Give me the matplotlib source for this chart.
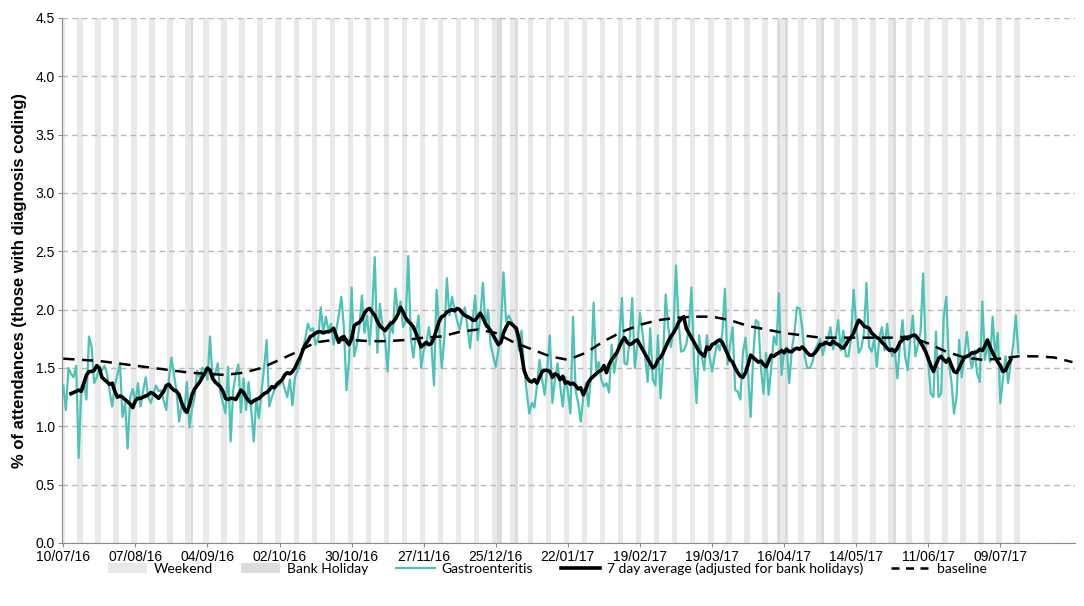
import numpy as np
import pandas as pd
import matplotlib
matplotlib.use('Agg')
import matplotlib.pyplot as plt
from matplotlib.lines import Line2D
from matplotlib.ticker import FixedLocator

start = pd.Timestamp('2016-07-10')

# daily % of attendances, Gastroenteritis, from 10/07/16
gastro = [
    1.35, 1.14, 1.50, 1.45, 1.42, 1.52, 0.73, 1.34, 1.38, 1.23,
    1.77, 1.68, 1.37, 1.42, 1.51, 1.48, 1.52, 1.45, 1.30, 1.17,
    1.35, 1.44, 1.54, 1.08, 1.20, 0.81, 1.25, 1.32, 1.20, 1.37,
    1.17, 1.30, 1.42, 1.25, 1.20, 1.28, 1.35, 1.30, 1.31, 1.22,
    1.14, 1.40, 1.59, 1.44, 1.30, 1.04, 1.20, 1.12, 1.38, 0.99,
    1.15, 1.25, 1.48, 1.42, 1.50, 1.49, 1.40, 1.77, 1.40, 1.45,
    1.54, 1.29, 1.20, 1.11, 1.51, 0.87, 1.31, 1.45, 1.53, 1.12,
    1.41, 1.14, 1.38, 1.14, 0.87, 1.24, 1.07, 1.30, 1.50, 1.74,
    1.17, 1.25, 1.31, 1.38, 1.35, 1.40, 1.32, 1.25, 1.40, 1.18,
    1.42, 1.48, 1.54, 1.66, 1.75, 1.88, 1.82, 1.84, 1.70, 1.75,
    2.02, 1.80, 1.94, 1.82, 1.88, 1.70, 1.82, 1.95, 2.11, 1.85,
    1.31, 1.57, 2.19, 1.60, 1.70, 1.85, 2.12, 1.80, 1.95, 1.70,
    2.00, 2.45, 1.63, 2.05, 1.85, 1.75, 1.47, 1.90, 1.80, 2.18,
    1.95, 2.07, 1.85, 1.90, 2.46, 1.75, 1.59, 1.80, 1.95, 1.50,
    1.65, 1.70, 1.85, 1.70, 1.35, 2.17, 1.85, 1.50, 1.75, 2.27,
    1.95, 2.11, 2.00, 1.90, 1.83, 1.95, 2.02, 1.85, 1.67, 1.90,
    2.12, 1.74, 1.95, 2.23, 1.85, 2.00, 1.70, 1.60, 1.51, 1.65,
    1.85, 2.32, 1.90, 1.95, 1.91, 1.85, 1.80, 1.65, 1.82, 1.50,
    1.30, 1.11, 1.20, 1.16, 1.35, 1.57, 1.40, 1.27, 1.50, 1.78,
    1.20, 1.40, 1.54, 1.35, 1.17, 1.42, 1.30, 1.11, 1.94, 1.31,
    1.20, 1.04, 1.25, 1.37, 1.17, 1.45, 2.06, 1.48, 1.55, 1.40,
    1.34, 1.37, 1.29, 1.70, 1.46, 1.60, 1.75, 2.10, 1.54, 1.53,
    1.75, 2.10, 1.50, 1.70, 1.97, 1.80, 1.60, 1.38, 1.84, 1.40,
    1.35, 1.78, 1.24, 1.60, 2.13, 1.85, 1.68, 1.81, 2.38, 1.90,
    1.64, 1.65, 1.70, 1.85, 2.19, 1.55, 1.20, 1.78, 1.60, 1.48,
    1.78, 1.60, 1.47, 1.60, 1.71, 1.65, 1.80, 2.18, 1.53, 1.70,
    1.85, 1.31, 1.30, 1.23, 1.63, 1.76, 1.46, 1.08, 1.60, 1.91,
    1.89, 1.50, 1.28, 1.63, 1.27, 1.50, 1.77, 1.70, 2.14, 1.44,
    1.65, 1.68, 1.37, 1.66, 1.80, 2.02, 2.01, 1.85, 1.60, 1.50,
    1.50, 1.55, 1.66, 1.70, 1.75, 1.61, 1.70, 1.75, 1.85, 1.66,
    1.75, 1.91, 1.65, 1.82, 1.60, 1.60, 1.75, 2.17, 1.87, 1.63,
    1.67, 1.80, 2.23, 1.68, 1.64, 1.75, 1.51, 1.76, 1.85, 1.65,
    1.88, 1.70, 1.60, 1.65, 1.41, 1.70, 1.91, 1.60, 1.48, 1.75,
    1.95, 1.60, 1.70, 1.81, 2.31, 1.65, 1.55, 1.28, 1.25, 1.81,
    1.25, 1.28, 1.94, 2.11, 1.54, 1.38, 1.11, 1.25, 1.74, 1.42,
    1.60, 1.81, 1.60, 1.50, 1.65, 1.45, 1.38, 2.07, 1.57, 1.70,
    1.55, 1.94, 1.60, 1.80, 1.20, 1.40, 1.60, 1.37, 1.54, 1.70,
    1.95, 1.63,
]

# 7 day average, starts on day 3
avg_start = 3
avg7 = [
    1.28, 1.29, 1.30, 1.31, 1.30, 1.37, 1.44, 1.47, 1.47, 1.48,
    1.52, 1.50, 1.42, 1.40, 1.38, 1.36, 1.37, 1.30, 1.25, 1.26,
    1.25, 1.23, 1.21, 1.19, 1.16, 1.22, 1.24, 1.24, 1.25, 1.26,
    1.27, 1.29, 1.28, 1.26, 1.24, 1.27, 1.30, 1.35, 1.36, 1.33,
    1.31, 1.30, 1.27, 1.20, 1.15, 1.12, 1.18, 1.27, 1.32, 1.35,
    1.38, 1.42, 1.46, 1.50, 1.48, 1.41, 1.38, 1.36, 1.34, 1.30,
    1.24, 1.23, 1.24, 1.24, 1.23, 1.27, 1.31, 1.29, 1.25, 1.22,
    1.20, 1.22, 1.23, 1.24, 1.26, 1.28, 1.29, 1.31, 1.34, 1.33,
    1.36, 1.38, 1.40, 1.44, 1.46, 1.45, 1.47, 1.50, 1.55, 1.59,
    1.65, 1.70, 1.73, 1.77, 1.78, 1.80, 1.81, 1.81, 1.80, 1.81,
    1.81, 1.82, 1.84, 1.78, 1.72, 1.76, 1.77, 1.73, 1.70, 1.75,
    1.86, 1.88, 1.89, 1.92, 1.97, 2.00, 2.01, 1.98, 1.95, 1.90,
    1.86, 1.84, 1.82, 1.85, 1.88, 1.89, 1.92, 1.96, 2.02, 1.98,
    1.93, 1.90, 1.88, 1.85, 1.80, 1.74, 1.68, 1.70, 1.72, 1.70,
    1.71, 1.76, 1.83, 1.90, 1.94, 1.95, 1.98, 1.99, 2.00, 1.99,
    2.01, 2.00, 1.97, 1.95, 1.94, 1.93, 1.91, 1.91, 1.94, 1.97,
    1.93, 1.88, 1.85, 1.82, 1.78, 1.74, 1.70, 1.72, 1.80, 1.85,
    1.89, 1.88, 1.86, 1.84, 1.75, 1.62, 1.48, 1.42, 1.39, 1.38,
    1.40, 1.37, 1.42, 1.47, 1.48, 1.48, 1.47, 1.42, 1.45, 1.44,
    1.40, 1.43, 1.37, 1.38, 1.36, 1.37, 1.35, 1.32, 1.33, 1.27,
    1.32, 1.38, 1.41, 1.43, 1.45, 1.47, 1.48, 1.52, 1.46, 1.53,
    1.57, 1.60, 1.63, 1.68, 1.73, 1.76, 1.72, 1.70, 1.71, 1.73,
    1.74, 1.70, 1.66, 1.62, 1.58, 1.54, 1.50, 1.52, 1.57, 1.59,
    1.63, 1.68, 1.73, 1.77, 1.80, 1.84, 1.89, 1.92, 1.94, 1.84,
    1.80, 1.76, 1.72, 1.68, 1.64, 1.62, 1.60, 1.68, 1.66, 1.70,
    1.71, 1.73, 1.74, 1.72, 1.67, 1.62, 1.57, 1.55, 1.50, 1.46,
    1.43, 1.42, 1.46, 1.53, 1.61, 1.59, 1.57, 1.55, 1.56, 1.53,
    1.51, 1.56, 1.61, 1.60, 1.62, 1.63, 1.65, 1.63, 1.66, 1.64,
    1.64, 1.66, 1.67, 1.66, 1.68, 1.66, 1.63, 1.61, 1.61, 1.63,
    1.66, 1.70, 1.70, 1.72, 1.71, 1.70, 1.73, 1.71, 1.70, 1.68,
    1.67, 1.70, 1.74, 1.76, 1.80, 1.86, 1.91, 1.89, 1.86, 1.85,
    1.84, 1.80, 1.78, 1.76, 1.75, 1.72, 1.70, 1.67, 1.65, 1.66,
    1.64, 1.67, 1.72, 1.74, 1.76, 1.75, 1.77, 1.78, 1.78, 1.75,
    1.72, 1.68, 1.64, 1.58, 1.52, 1.47, 1.53, 1.58, 1.60, 1.57,
    1.55, 1.58, 1.52, 1.47, 1.46, 1.50, 1.55, 1.59, 1.60, 1.61,
    1.63, 1.63, 1.64, 1.66, 1.65, 1.69, 1.74, 1.68, 1.63, 1.59,
    1.55, 1.52, 1.47, 1.48, 1.53, 1.57,
]

# baseline, read weekly
base_days = list(range(0, 393, 7))
baseline = [
    1.58, 1.57, 1.56, 1.54, 1.52, 1.50, 1.48, 1.46, 1.45, 1.44,
    1.46, 1.50, 1.57, 1.64, 1.72, 1.74, 1.74, 1.73, 1.73, 1.74,
    1.76, 1.77, 1.81, 1.83, 1.80, 1.72, 1.66, 1.60, 1.57, 1.63,
    1.73, 1.81, 1.87, 1.91, 1.93, 1.94, 1.94, 1.91, 1.86, 1.83,
    1.80, 1.78, 1.76, 1.76, 1.76, 1.76, 1.76, 1.77, 1.71, 1.64,
    1.59, 1.57, 1.58, 1.60, 1.60, 1.59, 1.55,
]

bank_holidays = ['2016-08-29', '2016-12-26', '2016-12-27', '2017-01-02',
                 '2017-04-14', '2017-04-17', '2017-05-01', '2017-05-29']

days = np.arange(len(gastro))
dates = start + pd.to_timedelta(days, unit='D')
bh = pd.to_datetime(bank_holidays)
is_bh = dates.isin(bh)
is_we = (dates.dayofweek >= 5) & ~is_bh
ymax = 4.5

fig = plt.figure(figsize=(10.84, 6.06), dpi=100)
ax = fig.add_axes([0.0572, 0.104, 0.9345, 0.8663])

b1 = ax.bar(days[is_we], ymax, width=1.15, color='#e9e9e9', linewidth=0, label='Weekend')
b2 = ax.bar(days[is_bh], ymax, width=1.15, color='#dcdcdc', linewidth=0, label='Bank Holiday')
l1, = ax.plot(days, gastro, color='#4dc3b7', lw=1.6, label='Gastroenteritis', zorder=3)
l2, = ax.plot(np.arange(len(avg7)) + avg_start, avg7, color='black', lw=2.6,
              label='7 day average (adjusted for bank holidays)', zorder=4)
ax.plot(base_days, baseline, color='black', lw=1.8, ls=(0, (4.5, 3)), zorder=4)
l3 = Line2D([], [], color='black', lw=1.8, ls=(0, (3.2, 2.6)), label='baseline')

ax.set_xlim(-0.5, 393)
ax.set_ylim(0, ymax)
ax.yaxis.set_major_locator(FixedLocator(np.arange(0, 4.51, 0.5)))
ax.set_yticklabels(['%.1f' % v for v in np.arange(0, 4.51, 0.5)])
tick_days = np.arange(0, 365, 28)
ax.set_xticks(tick_days)
ax.set_xticklabels([(start + pd.Timedelta(days=int(d))).strftime('%d/%m/%y') for d in tick_days])

ax.yaxis.grid(True, color='#b8b8b8', ls=(0, (4, 3)), lw=1.0)
for s in ['top', 'right']:
    ax.spines[s].set_visible(False)
for s in ['left', 'bottom']:
    ax.spines[s].set_color('#8c8c8c')
ax.tick_params(axis='both', colors='#8c8c8c', labelcolor='black', labelsize=10, length=3, pad=2)
for lab in ax.get_xticklabels() + ax.get_yticklabels():
    lab.set_family('Liberation Sans')

ax.set_ylabel('% of attendances (those with diagnosis coding)', fontsize=12,
              fontweight='bold', family='Liberation Sans', labelpad=6)

fig.legend(handles=[b1, b2, l1, l2, l3], loc='center', bbox_to_anchor=(0.505, 0.062),
           ncol=5, frameon=False, prop={'family': 'Lato', 'size': 10}, handlelength=2.8,
           columnspacing=2.0, handletextpad=0.5)

fig.savefig('out.png', dpi=100)
